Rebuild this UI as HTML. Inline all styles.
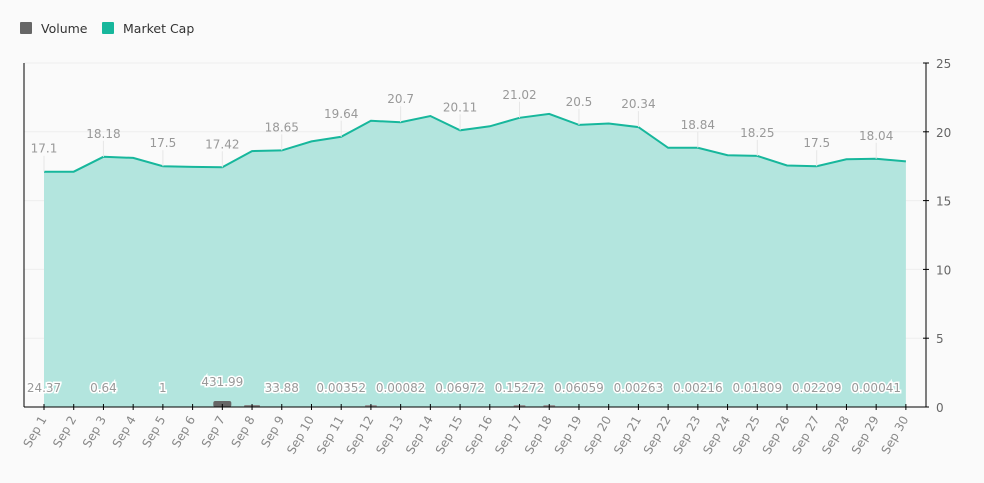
<!DOCTYPE html>
<html><head><meta charset="utf-8"><style>
html,body{margin:0;padding:0;background:#fafafa;}
svg{display:block;font-family:"DejaVu Sans","Liberation Sans",sans-serif;}
</style></head><body>
<svg id="c" width="984" height="483" xmlns="http://www.w3.org/2000/svg">
<rect width="984" height="483" fill="#fafafa"/>
<rect x="20" y="22" width="12" height="12" rx="1" fill="#666"/>
<text x="41" y="33" font-size="12.5" fill="#333">Volume</text>
<rect x="102" y="22" width="12" height="12" rx="1" fill="#17b79c"/>
<text x="123" y="33" font-size="12.5" fill="#333">Market Cap</text>
</svg>
<script>
var s=document.getElementById('c'),ns='http://www.w3.org/2000/svg';
function el(t,a,txt){var e=document.createElementNS(ns,t);for(var k in a)e.setAttribute(k,a[k]);if(txt!=null)e.textContent=txt;s.appendChild(e);return e;}
var v=[17.1,17.1,18.18,18.1,17.5,17.45,17.42,18.6,18.65,19.3,19.64,20.8,20.7,21.15,20.11,20.4,21.02,21.3,20.5,20.6,20.34,18.84,18.84,18.3,18.25,17.55,17.5,18.0,18.04,17.85];
var lab={0:'17.1',2:'18.18',4:'17.5',6:'17.42',8:'18.65',10:'19.64',12:'20.7',14:'20.11',16:'21.02',18:'20.5',20:'20.34',22:'18.84',24:'18.25',26:'17.5',28:'18.04'};
var vl={0:'24.37',2:'0.64',4:'1',6:'431.99',8:'33.88',10:'0.00352',12:'0.00082',14:'0.06972',16:'0.15272',18:'0.06059',20:'0.00263',22:'0.00216',24:'0.01809',26:'0.02209',28:'0.00041'};
var X=function(i){return 44+i*29.72;},Y=function(val){return 407-val*13.76;};
for(var g=1;g<=5;g++)el('line',{x1:24,x2:926,y1:Y(g*5),y2:Y(g*5),stroke:'#eee','stroke-width':1});
var pts=v.map(function(a,i){return X(i).toFixed(1)+','+Y(a).toFixed(1);}).join(' ');
el('polygon',{points:X(0)+',407 '+pts+' '+X(29)+',407',fill:'#b3e5de'});
el('polyline',{points:pts,fill:'none',stroke:'#17b79c','stroke-width':2});
for(var i in lab){i=+i;var y=Y(v[i]);
el('line',{x1:X(i),x2:X(i),y1:y-16,y2:y,stroke:'#e6e6e6'});
el('text',{x:X(i),y:y-19,'font-size':12,fill:'#999','text-anchor':'middle'},lab[i]);}
el('rect',{x:X(6)-9,y:401,width:18,height:6,rx:2,fill:'#666'});
el('rect',{x:X(7)-8,y:405,width:16,height:2,rx:1,fill:'#888'});
[11,16,17].forEach(function(i){el('rect',{x:X(i)-6,y:405,width:12,height:2,rx:1,fill:'#999'});});
for(var i in vl){i=+i;el('text',{x:X(i),y:i==6?386:392,'font-size':12,fill:'#999','text-anchor':'middle',stroke:'#fff','stroke-width':3,'paint-order':'stroke'},vl[i]);}
el('line',{x1:24,x2:24,y1:63,y2:407,stroke:'#000'});
el('line',{x1:926,x2:926,y1:63,y2:407,stroke:'#000'});
el('line',{x1:24,x2:926,y1:407,y2:407,stroke:'#000'});
for(var g=0;g<=5;g++){el('line',{x1:923,x2:929,y1:Y(g*5),y2:Y(g*5),stroke:'#000'});
el('text',{x:936,y:Y(g*5)+5,'font-size':12,fill:'#666'},String(g*5));}
for(var i=0;i<30;i++){var x=X(i);el('line',{x1:x,x2:x,y1:404,y2:410,stroke:'#000'});
el('text',{x:x+3,y:419,'font-size':12,fill:'#888','text-anchor':'end',transform:'rotate(-60 '+(x+3)+' 419)'},'Sep '+(i+1));}
</script>
</body></html>
